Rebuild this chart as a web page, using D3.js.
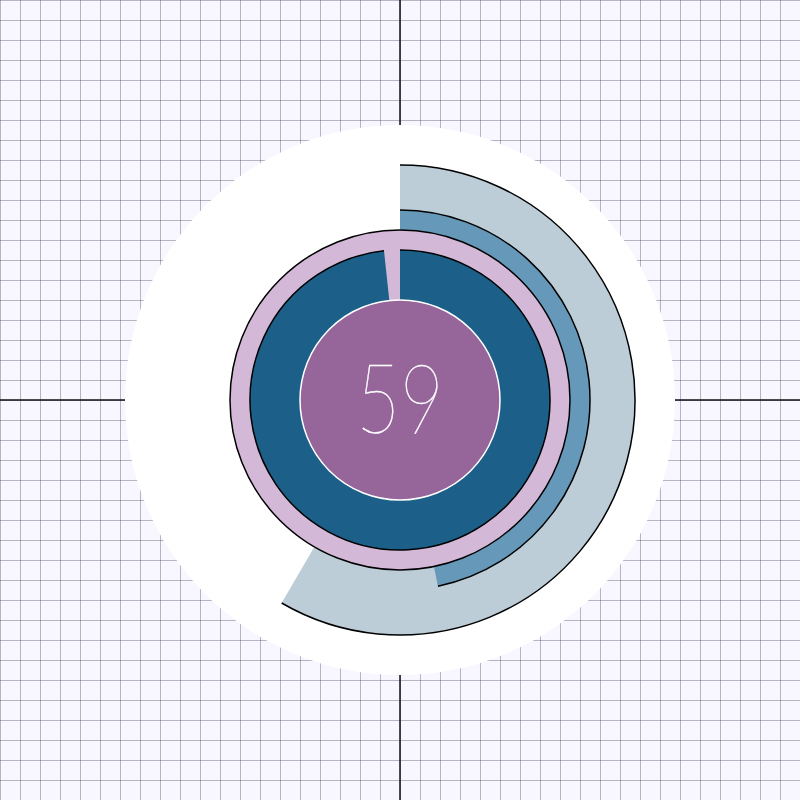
<!DOCTYPE html>
<html>
<head>
<meta charset="utf-8">
<script src="https://cdn.jsdelivr.net/npm/d3@7"></script>
<style>
html,body{margin:0;padding:0;background:#f8f6fe;}
svg{display:block;}
</style>
</head>
<body>
<svg id="chart" width="800" height="800"></svg>
<script>
// Data
const centerLabel = "59";
const ringNames = ["outer", "middle", "inner"];
const ringValues = [0.584, 0.468, 0.983];   // fraction of full circle
const ringColors = ["#bccdd8", "#6699b9", "#1c5f88"];
const trackColor = "#d4b8d8";
const coreColor = "#96669b";
const gridStep = 20;

const W = 800, H = 800, cx = 400, cy = 400;
const svg = d3.select("#chart");

// background grid
const xs = d3.range(0, W + 1, gridStep);
const g = svg.append("g");
g.append("rect").attr("width", W).attr("height", H).attr("fill", "#f8f6fe");
g.selectAll("line.v").data(xs).join("line")
  .attr("x1", d => d + 0.5).attr("x2", d => d + 0.5).attr("y1", 0).attr("y2", H)
  .attr("stroke", "rgba(70,60,90,0.36)").attr("stroke-width", 1);
g.selectAll("line.h").data(xs).join("line")
  .attr("y1", d => d + 0.5).attr("y2", d => d + 0.5).attr("x1", 0).attr("x2", W)
  .attr("stroke", "rgba(70,60,90,0.36)").attr("stroke-width", 1);

// axes
svg.append("line").attr("x1", 0).attr("x2", W).attr("y1", cy).attr("y2", cy)
  .attr("stroke", "#111").attr("stroke-width", 1.5);
svg.append("line").attr("y1", 0).attr("y2", H).attr("x1", cx).attr("x2", cx)
  .attr("stroke", "#111").attr("stroke-width", 1.5);

const root = svg.append("g").attr("transform", `translate(${cx},${cy})`);
root.append("circle").attr("r", 275).attr("fill", "#fff");

const angle = d3.scaleLinear().domain([0, 1]).range([0, 2 * Math.PI]);
const arc = d3.arc();

// ring geometry
const rings = [
  {inner: 170, outer: 235},
  {inner: 170, outer: 190},
  {inner: 100, outer: 150}
];

function drawRing(i) {
  const r = rings[i];
  const end = angle(ringValues[i]);
  root.append("path")
    .attr("d", arc({innerRadius: r.inner, outerRadius: r.outer, startAngle: 0, endAngle: end}))
    .attr("fill", ringColors[i]);
  root.append("path")
    .attr("d", d3.arc()({innerRadius: r.outer, outerRadius: r.outer, startAngle: 0, endAngle: end}))
    .attr("fill", "none").attr("stroke", "#000").attr("stroke-width", 1.5);
}

drawRing(0);
drawRing(1);

// pink track
root.append("path")
  .attr("d", arc({innerRadius: 100, outerRadius: 170, startAngle: 0, endAngle: 2 * Math.PI}))
  .attr("fill", trackColor);
root.append("circle").attr("r", 170).attr("fill", "none").attr("stroke", "#000").attr("stroke-width", 1.5);

drawRing(2);

// core
root.append("circle").attr("r", 100).attr("fill", coreColor)
  .attr("stroke", "#fff").attr("stroke-width", 1.5);
root.append("text").text(centerLabel)
  .attr("text-anchor", "middle")
  .attr("transform", "translate(0,33) scale(0.78,1.0)")
  .attr("fill", "#fff")
  .attr("stroke", "#fff").attr("stroke-width", 0.45)
  .style("font-family", "Lato, 'Open Sans', sans-serif")
  .style("font-weight", 100)
  .style("font-size", "97px");
</script>
</body>
</html>
